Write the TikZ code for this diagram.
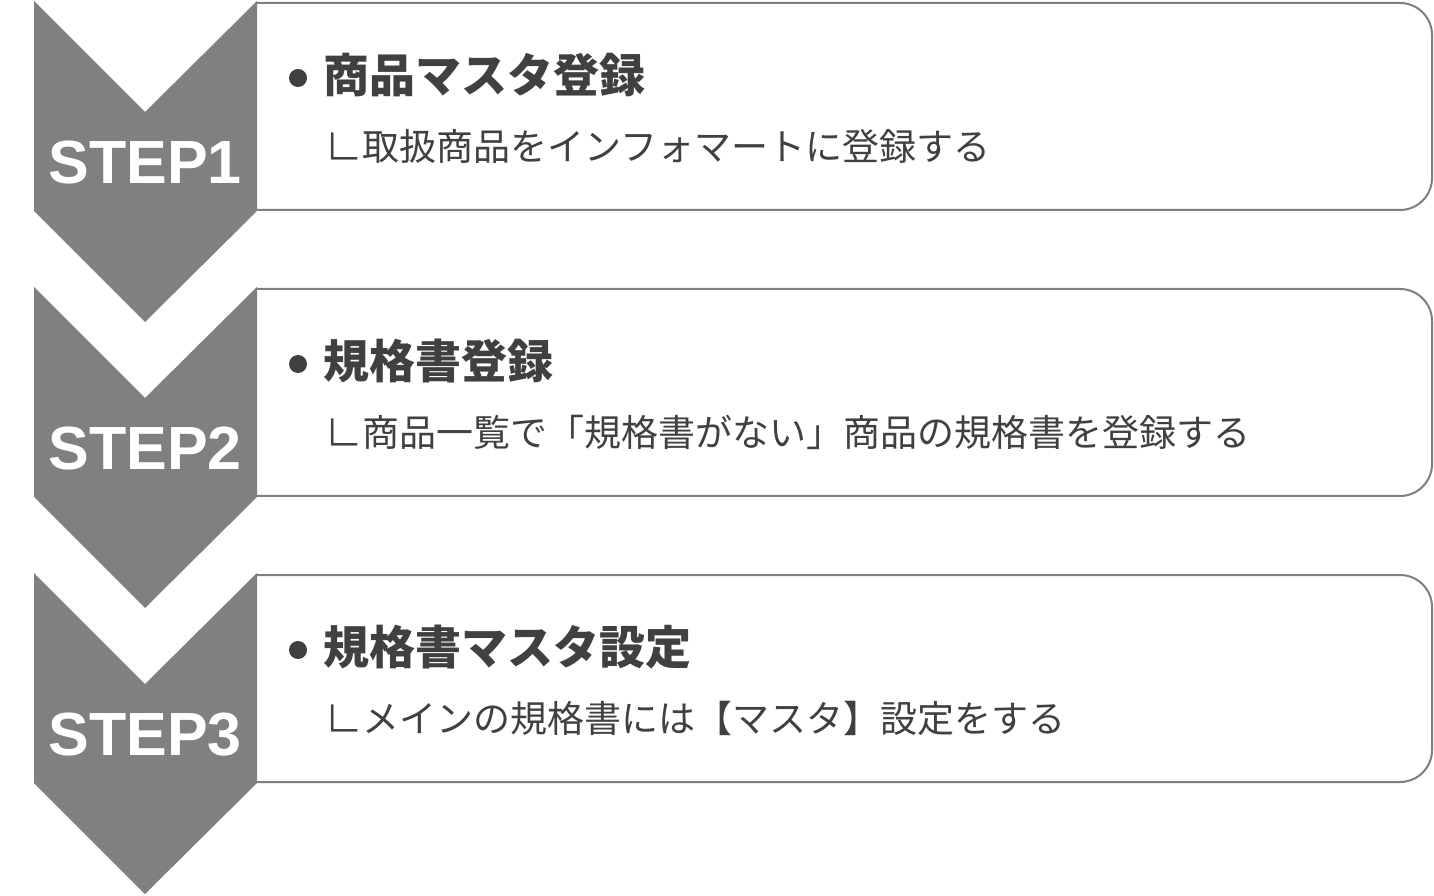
\documentclass[tikz,border=0pt]{standalone}
\usepackage{fontspec}
\setmainfont{Liberation Sans}
\newfontfamily\jpfont{Noto Sans CJK JP}
\definecolor{chevgray}{HTML}{808080}
\definecolor{linegray}{HTML}{7F7F7F}
\definecolor{textgray}{HTML}{404040}
\begin{document}
\begin{tikzpicture}[x=1pt,y=1pt,
 chevron/.style={fill=chevgray},
 stepbox/.style={draw=linegray,line width=2pt,fill=white},
 steplabel/.style={text=white,font=\fontsize{61}{61}\selectfont\bfseries,inner sep=0pt},
 title/.style={anchor=west,text=textgray,font=\jpfont\fontsize{46}{50}\selectfont\bfseries,inner sep=0pt},
 desc/.style={anchor=west,text=textgray,font=\jpfont\fontsize{37}{40}\selectfont,inner sep=0pt}]
 \useasboundingbox (0,0) rectangle (1434,895);
 % step 1
 \draw[stepbox] (257,892)--(1400,892) arc[start angle=90,end angle=0,radius=32]--(1432,717) arc[start angle=0,end angle=-90,radius=32]--(257,685);
 \fill[chevron] (34,894)--(145,783)--(257,894)--(257,684)--(145,573)--(34,684)--cycle;
 \node[steplabel] (step1) at (145,732) {STEP1};
 \fill[textgray] (298,817) circle (9);
 \node[title] (title1) at (323,820) {商品マスタ登録};
 \node[desc] (desc1) at (325,749) {∟取扱商品をインフォマートに登録する};
 % step 2
 \draw[stepbox] (257,606)--(1400,606) arc[start angle=90,end angle=0,radius=32]--(1432,431) arc[start angle=0,end angle=-90,radius=32]--(257,399);
 \fill[chevron] (34,608)--(145,497)--(257,608)--(257,398)--(145,287)--(34,398)--cycle;
 \node[steplabel] (step2) at (145,446) {STEP2};
 \fill[textgray] (298,531) circle (9);
 \node[title] (title2) at (323,534) {規格書登録};
 \node[desc] (desc2) at (325,463) {∟商品一覧で「規格書がない」商品の規格書を登録する};
 % step 3
 \draw[stepbox] (257,320)--(1400,320) arc[start angle=90,end angle=0,radius=32]--(1432,145) arc[start angle=0,end angle=-90,radius=32]--(257,113);
 \fill[chevron] (34,322)--(145,211)--(257,322)--(257,112)--(145,1)--(34,112)--cycle;
 \node[steplabel] (step3) at (145,160) {STEP3};
 \fill[textgray] (298,245) circle (9);
 \node[title] (title3) at (323,248) {規格書マスタ設定};
 \node[desc] (desc3) at (325,177) {∟メインの規格書には【マスタ】設定をする};
\end{tikzpicture}
\end{document}
